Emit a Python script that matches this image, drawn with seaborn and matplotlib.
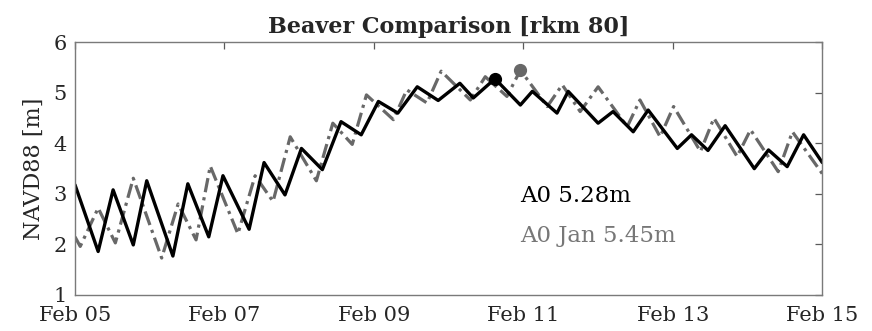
import matplotlib
matplotlib.use("Agg")
import matplotlib.pyplot as plt
import matplotlib.dates as mdates
import seaborn as sns
import pandas as pd

# ---- data (days after 2023-02-05 00:00, water level in m NAVD88) ----
a0_days = [0.00, 0.31, 0.51, 0.78, 0.96, 1.31, 1.51, 1.79, 1.98, 2.33,
           2.53, 2.81, 3.03, 3.31, 3.56, 3.83, 4.06, 4.32, 4.58, 4.86,
           5.15, 5.33, 5.62, 5.96, 6.12, 6.45, 6.60, 7.00, 7.20, 7.47,
           7.67, 8.06, 8.25, 8.47, 8.70, 9.09, 9.28, 9.53, 9.75, 10.00]
a0_level = [3.18, 1.86, 3.08, 1.99, 3.26, 1.77, 3.20, 2.15, 3.36, 2.30,
            3.62, 2.98, 3.90, 3.48, 4.43, 4.17, 4.83, 4.60, 5.12, 4.85,
            5.19, 4.90, 5.28, 4.76, 5.03, 4.60, 5.03, 4.40, 4.63, 4.23,
            4.66, 3.90, 4.17, 3.86, 4.35, 3.50, 3.87, 3.54, 4.17, 3.62]

jan_days = [0.00, 0.07, 0.31, 0.54, 0.78, 1.16, 1.38, 1.62, 1.81, 2.18,
            2.41, 2.65, 2.88, 3.23, 3.45, 3.71, 3.90, 4.26, 4.44, 4.71,
            4.90, 5.29, 5.49, 5.78, 5.96, 6.32, 6.52, 6.76, 7.00, 7.39,
            7.56, 7.83, 8.01, 8.37, 8.55, 8.86, 9.04, 9.41, 9.60, 10.00]
jan_level = [2.15, 1.96, 2.72, 2.03, 3.31, 1.73, 2.80, 2.09, 3.55, 2.21,
             3.36, 2.85, 4.13, 3.26, 4.40, 3.98, 4.96, 4.47, 5.06, 4.80,
             5.43, 4.86, 5.32, 4.93, 5.45, 4.73, 5.16, 4.63, 5.12, 4.33,
             4.86, 4.13, 4.73, 3.84, 4.50, 3.74, 4.27, 3.44, 4.23, 3.40]

a0_peak_day, a0_peak = 5.62, 5.28
jan_peak_day, jan_peak = 5.96, 5.45

title = "Beaver Comparison [rkm 80]"
ylabel = "NAVD88 [m]"
label_a0 = "A0 5.28m"
label_jan = "A0 Jan 5.45m"

start = pd.Timestamp("2023-02-05")
df_a0 = pd.DataFrame({"time": start + pd.to_timedelta(a0_days, unit="D"), "level": a0_level})
df_jan = pd.DataFrame({"time": start + pd.to_timedelta(jan_days, unit="D"), "level": jan_level})

sns.set_theme(style="white")
plt.rcParams["font.family"] = ["DejaVu Serif"]

fig = plt.figure(figsize=(8.72, 3.31), dpi=100)
ax = fig.add_axes([0.086, 0.109, 0.857, 0.763])

gray = "#686868"
sns.lineplot(data=df_jan, x="time", y="level", ax=ax, color=gray, lw=2.3,
             linestyle=(0, (4.5, 1.6, 1.0, 1.6)), estimator=None, sort=False,
             solid_joinstyle="round", dash_joinstyle="round")
sns.lineplot(data=df_a0, x="time", y="level", ax=ax, color="black", lw=2.4,
             estimator=None, sort=False, solid_joinstyle="round")

ax.plot(start + pd.Timedelta(days=a0_peak_day), a0_peak, "o", color="black", ms=8.5)
ax.plot(start + pd.Timedelta(days=jan_peak_day), jan_peak, "o", color=gray, ms=8.5)

ax.set_xlim(start, start + pd.Timedelta(days=10))
ax.set_ylim(1, 6)
ax.set_yticks([1, 2, 3, 4, 5, 6])
ax.xaxis.set_major_locator(mdates.DayLocator(bymonthday=[5, 7, 9, 11, 13, 15]))
ax.xaxis.set_major_formatter(mdates.DateFormatter("%b %d"))

ax.set_xlabel("")
ax.set_ylabel(ylabel, fontsize=16, labelpad=6)
ax.set_title(title, fontsize=16, fontweight="bold", pad=7)

for s in ax.spines.values():
    s.set_color("#7a7a7a")
    s.set_linewidth(1.0)
ax.tick_params(direction="in", length=5, width=0.9, color="#5a5a5a",
               top=True, right=True, labelsize=15)
ax.tick_params(axis="x", pad=8)
ax.tick_params(axis="y", pad=6)

ax.text(0.596, 0.39, label_a0, transform=ax.transAxes, fontsize=16.5,
        color="black", va="center")
ax.text(0.596, 0.235, label_jan, transform=ax.transAxes, fontsize=16.5,
        color="#777777", va="center")

fig.savefig("out.png", dpi=100)
